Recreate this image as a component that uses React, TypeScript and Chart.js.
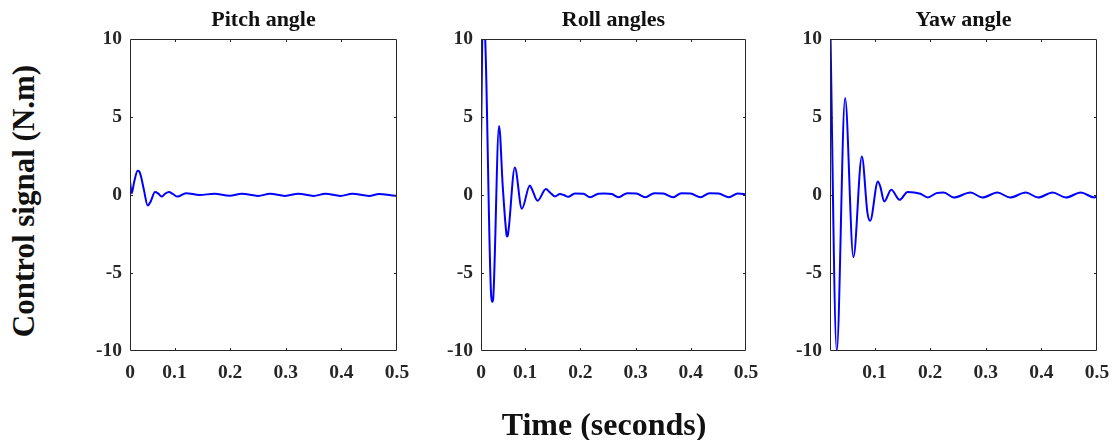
import React, { useEffect, useRef } from "react";
import { Chart, registerables } from "chart.js";

Chart.register(...registerables);

// ---------- data ----------
const panelTitles = ["Pitch angle", "Roll angles", "Yaw angle"];
const xAxisLabel = "Time (seconds)";
const yAxisLabel = "Control signal (N.m)";
const yTickValues = [-10, -5, 0, 5, 10];
const xTickValues = [0.02, 0.1, 0.2, 0.3, 0.4, 0.5];

const pitchTime = [
  0.02, 0.0232, 0.027, 0.0338, 0.0368, 0.0398, 0.045, 0.0518, 0.0572, 0.065,
  0.0705, 0.077, 0.083, 0.09, 0.0976, 0.1054, 0.1207, 0.1447, 0.172, 0.199,
  0.221, 0.2504, 0.2716, 0.2987, 0.3228, 0.35, 0.3712, 0.3984, 0.4196, 0.4496,
  0.4678, 0.498, 0.5,
];
const pitchValues = [
  0.87, 0.12, 0.76, 1.55, 1.5, 1.19, 0.33, -0.67, -0.41, 0.19,
  0.1, -0.1, 0.08, 0.19, 0.05, -0.1, 0.12, 0.0, 0.08, -0.05,
  0.08, -0.06, 0.08, -0.06, 0.08, -0.06, 0.08, -0.06, 0.08, -0.06,
  0.07, -0.05, -0.03,
];

const rollTime = [
  0.02, 0.024, 0.0285, 0.0385, 0.0407, 0.0422, 0.0527, 0.0595, 0.0665, 0.0673,
  0.0685, 0.0813, 0.094, 0.1085, 0.112, 0.1225, 0.1376, 0.145, 0.154, 0.163,
  0.17, 0.178, 0.19, 0.2055, 0.2176, 0.2327, 0.243, 0.257, 0.269, 0.285,
  0.3015, 0.3176, 0.334, 0.35, 0.368, 0.383, 0.3995, 0.4176, 0.434, 0.4504,
  0.469, 0.485, 0.5,
];
const rollValues = [
  3.1, 13, 9, -6.5, -6.85, -6.6, 4.43, 0.5, -2.6, -2.66,
  -2.6, 1.77, -0.88, 0.61, 0.4, -0.37, 0.38, 0.16, -0.09, 0.06,
  0.0, -0.12, 0.1, 0.08, -0.14, 0.08, 0.1, 0.06, -0.14, 0.12,
  0.1, -0.14, 0.12, 0.1, -0.14, 0.12, 0.1, -0.14, 0.12, 0.1,
  -0.14, 0.1, 0.05,
];

const yawTime = [
  0.02, 0.0321, 0.0471, 0.0621, 0.0773, 0.0874, 0.0922, 0.1061, 0.1103, 0.1175,
  0.1301, 0.1451, 0.1596, 0.1825, 0.1957, 0.2114, 0.2245, 0.2426, 0.2727, 0.2939,
  0.321, 0.3437, 0.372, 0.3942, 0.4202, 0.4442, 0.4708, 0.4953, 0.5,
];
const yawValues = [
  12, -10, 6.21, -3.98, 2.47, -1.16, -1.65, 0.87, 0.55, -0.42,
  0.33, -0.31, 0.2, 0.08, -0.16, 0.12, 0.16, -0.16, 0.16, -0.16,
  0.16, -0.16, 0.16, -0.16, 0.16, -0.16, 0.16, -0.16, -0.1,
];

// ---------- styling ----------
const FONT = '"Liberation Serif", "Times New Roman", serif';
const TEXT = "#262626";
const H = 440;
const AREA_BOTTOM = 351;
const Y_W = 60;
const PAD_R = 28;

const boxPlugin = {
  id: "matlabBox",
  afterDatasetsDraw(chart: any) {
    const { ctx, chartArea, scales } = chart;
    const { left, right, top, bottom } = chartArea;
    ctx.save();
    ctx.strokeStyle = TEXT;
    ctx.lineWidth = 1;
    ctx.beginPath();
    ctx.rect(left + 0.5, top + 0.5, right - left - 1, bottom - top - 1);
    const tl = 3;
    [0.1, 0.2, 0.3, 0.4].forEach((v) => {
      const px = Math.round(scales.x.getPixelForValue(v)) + 0.5;
      ctx.moveTo(px, bottom);
      ctx.lineTo(px, bottom - tl);
      ctx.moveTo(px, top);
      ctx.lineTo(px, top + tl);
    });
    [-5, 0, 5].forEach((v) => {
      const py = Math.round(scales.y.getPixelForValue(v)) + 0.5;
      ctx.moveTo(left, py);
      ctx.lineTo(left + tl, py);
      ctx.moveTo(right, py);
      ctx.lineTo(right - tl, py);
    });
    ctx.stroke();
    ctx.restore();
  },
};

type PanelProps = {
  title: string;
  times: number[];
  values: number[];
  showZero: boolean;
  areaLeft: number;
  areaRight: number;
};

function Panel({ title, times, values, showZero, areaLeft, areaRight }: PanelProps) {
  const ref = useRef<HTMLCanvasElement | null>(null);
  const width = areaRight - areaLeft + Y_W + PAD_R;

  useEffect(() => {
    if (!ref.current) return;
    const tickFont = { family: FONT, size: 19.5, weight: "bold" as const };
    const chart = new Chart(ref.current, {
      type: "line",
      data: {
        datasets: [
          {
            data: times.map((t, i) => ({ x: t, y: values[i] })),
            borderColor: "#0000ff",
            borderWidth: 2,
            pointRadius: 0,
            cubicInterpolationMode: "monotone",
            fill: false,
          },
        ],
      },
      options: {
        animation: false,
        responsive: false,
        events: [],
        layout: { padding: { left: 0, right: PAD_R, top: 0, bottom: 0 } },
        plugins: {
          legend: { display: false },
          tooltip: { enabled: false },
          title: {
            display: true,
            text: title,
            color: "#111",
            fullSize: false,
            font: { family: FONT, size: 22, weight: "bold", lineHeight: 1.2 },
            padding: { top: 7.6, bottom: 5 },
          },
        },
        scales: {
          x: {
            type: "linear",
            min: 0.02,
            max: 0.5,
            grid: { display: false, drawTicks: false },
            border: { display: false },
            afterBuildTicks: (s: any) => {
              s.ticks = xTickValues.map((v) => ({ value: v }));
            },
            afterFit: (s: any) => {
              s.height = H - AREA_BOTTOM;
            },
            ticks: {
              autoSkip: false,
              maxRotation: 0,
              minRotation: 0,
              padding: 10,
              color: TEXT,
              font: tickFont,
              callback: (v: any) =>
                Math.abs(Number(v) - 0.02) < 1e-9 ? (showZero ? "0" : "") : String(v),
            },
          },
          y: {
            type: "linear",
            min: -10,
            max: 10,
            grid: { display: false, drawTicks: false },
            border: { display: false },
            afterBuildTicks: (s: any) => {
              s.ticks = yTickValues.map((v) => ({ value: v }));
            },
            afterFit: (s: any) => {
              s.width = Y_W;
            },
            ticks: {
              padding: 8,
              color: TEXT,
              font: tickFont,
              callback: (v: any) => String(v),
            },
          },
        },
      },
      plugins: [boxPlugin],
    } as any);
    return () => chart.destroy();
  }, []);

  return (
    <canvas
      ref={ref}
      width={width}
      height={H}
      style={{ position: "absolute", left: areaLeft - Y_W, top: 0, width, height: H }}
    />
  );
}

export default function App() {
  return (
    <div
      style={{
        position: "absolute",
        left: 0,
        top: 0,
        width: 1114,
        height: 440,
        overflow: "hidden",
        background: "#fff",
      }}
    >
      <Panel title={panelTitles[0]} times={pitchTime} values={pitchValues} showZero={true} areaLeft={130} areaRight={397} />
      <Panel title={panelTitles[1]} times={rollTime} values={rollValues} showZero={true} areaLeft={481} areaRight={746} />
      <Panel title={panelTitles[2]} times={yawTime} values={yawValues} showZero={false} areaLeft={830} areaRight={1097} />
      <div
        style={{
          position: "absolute",
          left: 23,
          top: 201,
          transform: "translate(-50%, -50%) rotate(-90deg)",
          whiteSpace: "nowrap",
          fontFamily: FONT,
          fontWeight: "bold",
          fontSize: 31,
          color: "#111",
          lineHeight: 1,
        }}
      >
        {yAxisLabel}
      </div>
      <div
        style={{
          position: "absolute",
          left: 604,
          top: 424,
          transform: "translate(-50%, -50%)",
          whiteSpace: "nowrap",
          fontFamily: FONT,
          fontWeight: "bold",
          fontSize: 32,
          color: "#111",
          lineHeight: 1,
        }}
      >
        {xAxisLabel}
      </div>
    </div>
  );
}
